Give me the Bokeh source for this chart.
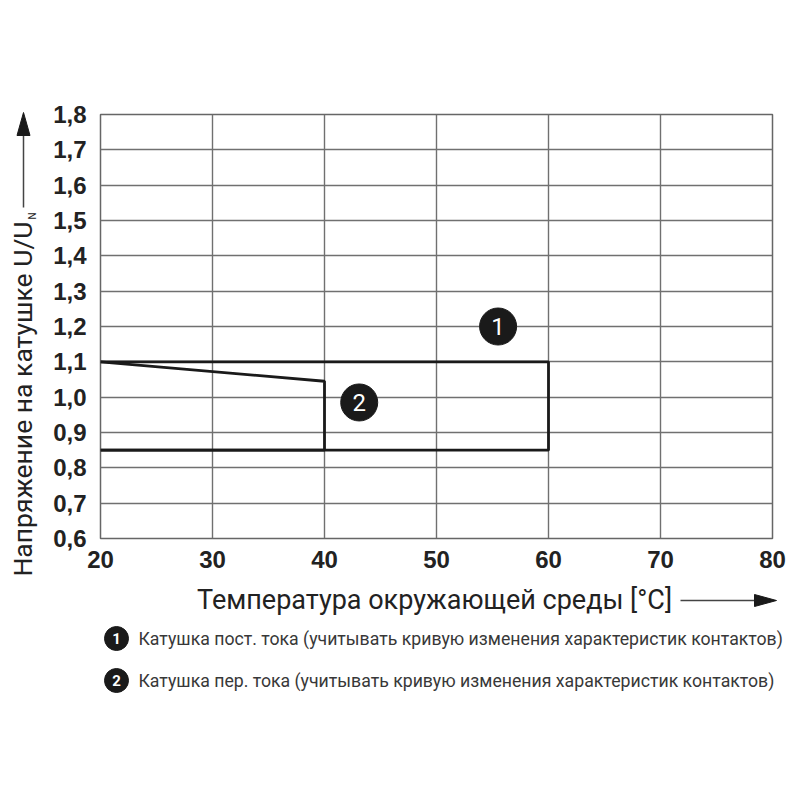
from bokeh.plotting import figure
from bokeh.layouts import column, row
from bokeh.models import FixedTicker, CustomJSTickFormatter, Range1d, ColumnDataSource
from bokeh.core.properties import value
from bokeh.embed import file_html
from bokeh.resources import INLINE

# ---- data ----
x_ticks = [20, 30, 40, 50, 60, 70, 80]
y_ticks = [0.6, 0.7, 0.8, 0.9, 1.0, 1.1, 1.2, 1.3, 1.4, 1.5, 1.6, 1.7, 1.8]

temp_dc = [20, 60, 60, 20]          # curve 1 (DC coil)
u_dc = [1.1, 1.1, 0.85, 0.85]
temp_ac = [20, 40, 40, 20]          # curve 2 (AC coil)
u_ac = [1.1, 1.045, 0.85, 0.85]

marker_ids = ["1", "2"]
marker_x = [55.5, 43.1]
marker_y = [1.2, 0.985]

legend_texts = [
    "Катушка пост. тока (учитывать кривую изменения характеристик контактов)",
    "Катушка пер. тока (учитывать кривую изменения характеристик контактов)",
]

x_title = "Температура окружающей среды [°C]"
y_title = "Напряжение на катушке U/U"
y_title_sub = "N"

TICK_FONT = "Liberation Sans"
TEXT_FONT = "Roboto"
INK = "#1a1a1a"

W, H = 792, 792
LEFT_W = 50
MAIN_H = 572

def blank(width, height, x_rng, y_rng):
    f = figure(width=width, height=height, x_range=Range1d(*x_rng), y_range=Range1d(*y_rng),
               x_axis_type=None, y_axis_type=None, output_backend="svg",
               toolbar_location=None, min_border=0)
    f.grid.visible = False
    f.outline_line_color = None
    f.background_fill_color = "white"
    f.border_fill_color = "white"
    return f

# ---- main chart ----
p = figure(width=W - LEFT_W, height=MAIN_H, x_range=Range1d(20, 80), y_range=Range1d(0.6, 1.8),
           output_backend="svg", toolbar_location=None,
           min_border_left=48, min_border_right=20, min_border_top=114, min_border_bottom=34)
p.background_fill_color = "white"
p.border_fill_color = "white"
p.outline_line_color = "#666666"
p.outline_line_width = 1.5

p.xaxis.ticker = FixedTicker(ticks=x_ticks)
p.yaxis.ticker = FixedTicker(ticks=y_ticks)
p.yaxis.formatter = CustomJSTickFormatter(code="return tick.toFixed(1).replace('.', ',');")
for ax in (p.xaxis, p.yaxis):
    ax.axis_line_color = None
    ax.major_tick_line_color = None
    ax.minor_tick_line_color = None
    ax.major_label_text_font = TICK_FONT
    ax.major_label_text_font_style = "bold"
    ax.major_label_text_font_size = "24px"
    ax.major_label_text_color = "#222222"
p.yaxis.major_label_standoff = 8
p.xaxis.major_label_standoff = 6

p.xgrid.ticker = FixedTicker(ticks=x_ticks)
p.ygrid.ticker = FixedTicker(ticks=y_ticks)
for g in (p.xgrid, p.ygrid):
    g.grid_line_color = "#707070"
    g.grid_line_width = 1.4
    g.grid_line_alpha = 1.0

p.line(temp_dc, u_dc, line_color=INK, line_width=2.8)
p.line(temp_ac, u_ac, line_color=INK, line_width=2.8)

src = ColumnDataSource(dict(x=marker_x, y=marker_y, t=marker_ids))
p.scatter("x", "y", source=src, size=37, fill_color=INK, line_color=INK)
p.text("x", "y", text="t", source=src, text_color="white", text_align="center",
       text_baseline="middle", text_font=value(TEXT_FONT), text_font_size="24px")

# ---- left strip (full height): y title, page pixel coordinates, y downwards ----
yl = blank(LEFT_W, H, (0, LEFT_W), (H, 0))
yl.text([22], [221], text=[y_title], angle=1.5708, text_align="right", text_baseline="middle",
        text_font=value(TEXT_FONT), text_font_size="26.5px", text_color="#222222")
yl.text([32], [219], text=[y_title_sub], angle=1.5708, text_align="left", text_baseline="middle",
        text_font=value(TEXT_FONT), text_font_size="10px", text_color="#222222")
yl.line([23, 23], [207, 130], line_color="#444444", line_width=1.5)
yl.patch([16.5, 29.5, 23], [135, 135, 112], fill_color=INK, line_color=INK)

# ---- bottom strip: x title + legend (page pixel coordinates) ----
bt = blank(W - LEFT_W, H - MAIN_H, (LEFT_W, W), (H, MAIN_H))
bt.text([434], [599], text=[x_title], text_align="center", text_baseline="middle",
        text_font=value(TEXT_FONT), text_font_size="27px", text_color="#222222")
bt.line([680, 758], [600, 600], line_color="#444444", line_width=1.5)
bt.patch([754, 754, 776], [594, 606, 600], fill_color=INK, line_color=INK)

leg_y = [638, 680]
bt.scatter([116, 116], leg_y, size=24, fill_color=INK, line_color=INK)
bt.text([116, 116], leg_y, text=marker_ids, text_align="center", text_baseline="middle",
        text_font=value(TEXT_FONT), text_font_size="15px", text_font_style="bold",
        text_color="white")
bt.text([138, 138], leg_y, text=legend_texts, text_align="left", text_baseline="middle",
        text_font=value(TEXT_FONT), text_font_size="17.7px", text_color="#383838")

layout = row(yl, column(row(p), bt))
open("out.html", "w").write(file_html(layout, INLINE))
